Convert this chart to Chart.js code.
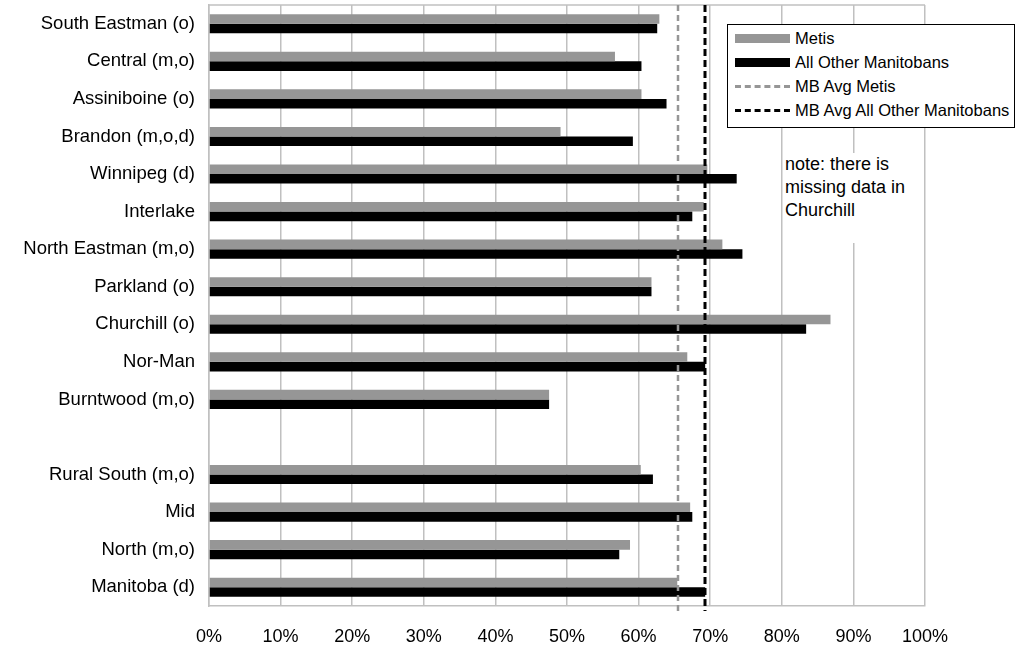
<!DOCTYPE html>
<html lang="en">
<head>
<meta charset="UTF-8">
<title>Metis vs All Other Manitobans</title>
<style>
  body { margin: 0; background: #fff; font-family: "Liberation Sans", Arial, sans-serif; }
  .wrap { position: relative; width: 1017px; height: 648px; }
  #legend {
    position: absolute; left: 727px; top: 24px; width: 288px; height: 104px;
    border: 1.5px solid #000; background: #fff; box-sizing: border-box;
    padding-top: 1px;
  }
  .item { display: flex; align-items: center; height: 24px; font-size: 16.5px; color: #000; }
  .sw { width: 55px; margin-left: 7px; margin-right: 5px; }
  #note {
    position: absolute; left: 784px; top: 153px; width: 125px; height: 90px;
    background: #fff; font-size: 18px; line-height: 23px; padding-left: 1px; color: #000;
  }
</style>
</head>
<body>
<div class="wrap">
  <canvas id="chart" width="1017" height="648"></canvas>
  <div id="legend"></div>
  <div id="note">note: there is missing data in Churchill</div>
</div>

<script src="https://cdn.jsdelivr.net/npm/chart.js@4"></script>
<script>
// data
const regions = ["South Eastman (o)", "Central (m,o)", "Assiniboine (o)", "Brandon (m,o,d)",
  "Winnipeg (d)", "Interlake", "North Eastman (m,o)", "Parkland (o)", "Churchill (o)",
  "Nor-Man", "Burntwood (m,o)", "", "Rural South (m,o)", "Mid", "North (m,o)", "Manitoba (d)"];
const metis = [62.9, 56.7, 60.4, 49.1, 69.6, 69.1, 71.7, 61.8, 86.8, 66.8, 47.5, null, 60.3, 67.2, 58.8, 65.4];
const otherMb = [62.6, 60.4, 63.9, 59.2, 73.7, 67.5, 74.5, 61.8, 83.4, 69.3, 47.5, null, 62.0, 67.5, 57.3, 69.3];
const avgLabels = ["MB Avg Metis", "MB Avg All Other Manitobans"];
const avgValues = [65.5, 69.3];
const xTicks = [0, 10, 20, 30, 40, 50, 60, 70, 80, 90, 100];

const FONT = "'Liberation Sans', Arial, sans-serif";
const GRID = "#c0c0c0";
const avgStyles = [
  { color: "#969696", width: 2.5, dash: [6, 4] },
  { color: "#000000", width: 3, dash: [7, 4] }
];

// top edge of the plot + the two average lines, placed through the x scale
const plotExtras = {
  id: "plotExtras",
  afterDatasetsDraw(chart) {
    const a = chart.chartArea, c = chart.ctx, x = chart.scales.x;
    c.save();
    c.strokeStyle = GRID;
    c.lineWidth = 1.5;
    c.beginPath();
    c.moveTo(a.left, a.top);
    c.lineTo(a.right, a.top);
    c.stroke();
    avgValues.forEach((v, i) => {
      const st = avgStyles[i];
      const px = Math.round(x.getPixelForValue(v));
      c.strokeStyle = st.color;
      c.lineWidth = st.width;
      c.setLineDash(st.dash);
      c.beginPath();
      c.moveTo(px, a.top);
      c.lineTo(px, a.bottom + 5);
      c.stroke();
    });
    c.restore();
  }
};

const ctx = document.getElementById("chart").getContext("2d");
const chart = new Chart(ctx, {
  type: "bar",
  data: {
    labels: regions,
    datasets: [
      { label: "Metis", data: metis, backgroundColor: "#969696" },
      { label: "All Other Manitobans", data: otherMb, backgroundColor: "#000000" }
    ]
  },
  options: {
    indexAxis: "y",
    responsive: false,
    animation: false,
    categoryPercentage: 0.51,
    barPercentage: 1.0,
    layout: { padding: { top: 5, right: 92, left: 0, bottom: 0 } },
    plugins: { legend: { display: false }, tooltip: { enabled: false } },
    scales: {
      x: {
        type: "linear", min: 0, max: 100,
        afterBuildTicks: (s) => { s.ticks = xTicks.map(v => ({ value: v })); },
        afterFit: (s) => { s.height = 42; s.paddingLeft = 0; s.paddingRight = 0; },
        grid: { color: GRID, lineWidth: 1.5, drawTicks: false },
        border: { color: GRID, width: 1.5 },
        ticks: {
          padding: 20, color: "#000",
          font: { family: FONT, size: 18 },
          callback: (v) => v + "%"
        }
      },
      y: {
        type: "category",
        afterFit: (s) => { s.width = 209; s.paddingTop = 0; s.paddingBottom = 0; },
        grid: { display: false, drawTicks: false },
        border: { color: GRID, width: 1.5 },
        ticks: { padding: 14, color: "#000", font: { family: FONT, size: 18.5 }, autoSkip: false }
      }
    }
  },
  plugins: [plotExtras]
});

// legend box built from the datasets and the average lines
const legend = document.getElementById("legend");
function addRow(label, swStyle) {
  const row = document.createElement("div");
  row.className = "item";
  const sw = document.createElement("div");
  sw.className = "sw";
  Object.assign(sw.style, swStyle);
  row.appendChild(sw);
  row.appendChild(document.createTextNode(label));
  legend.appendChild(row);
}
chart.data.datasets.forEach((ds) => addRow(ds.label, { height: "9px", background: ds.backgroundColor }));
avgLabels.forEach((l, i) => addRow(l, { borderTop: "3px dashed " + avgStyles[i].color }));
</script>
</body>
</html>
